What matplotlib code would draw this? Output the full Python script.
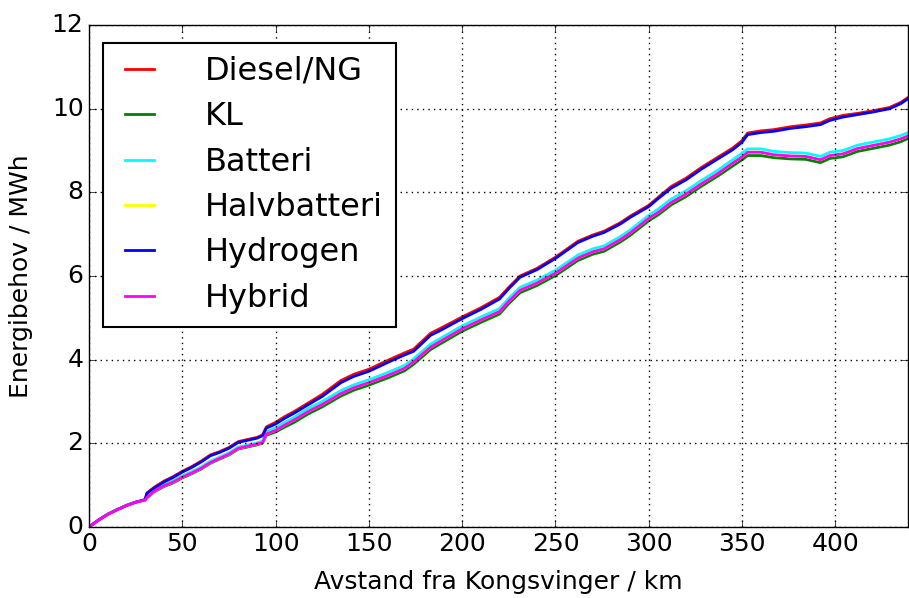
import matplotlib
matplotlib.use('Agg')
import matplotlib.pyplot as plt

# avstand langs strekningen (km)
avstand = [0, 5, 10, 15, 20, 25, 30, 31, 35, 40, 45, 50, 55, 60, 65, 70, 75, 80, 85, 90,
           93, 95, 100, 105, 110, 117, 125, 135, 142, 150, 160, 169, 174, 183, 188, 200,
           210, 220, 225, 231, 240, 250, 262, 270, 276, 285, 290, 300, 305, 312, 320, 328,
           337, 345, 350, 353, 360, 367, 376, 384, 392, 397, 404, 412, 420, 429, 435, 439]

diesel = [0, 0.16, 0.30, 0.41, 0.51, 0.59, 0.65, 0.81, 0.95, 1.09, 1.20, 1.33, 1.44, 1.57,
          1.72, 1.80, 1.90, 2.04, 2.09, 2.14, 2.20, 2.39, 2.50, 2.64, 2.76, 2.95, 3.17, 3.50,
          3.65, 3.77, 3.98, 4.16, 4.25, 4.63, 4.74, 5.02, 5.24, 5.49, 5.73, 6.00, 6.18, 6.45,
          6.83, 6.98, 7.07, 7.28, 7.43, 7.69, 7.88, 8.14, 8.34, 8.59, 8.84, 9.06, 9.24, 9.42,
          9.47, 9.50, 9.57, 9.61, 9.66, 9.76, 9.84, 9.89, 9.95, 10.03, 10.15, 10.27]
kl = [0, 0.16, 0.30, 0.41, 0.51, 0.59, 0.64, 0.69, 0.84, 0.96, 1.05, 1.17, 1.27, 1.38,
      1.52, 1.62, 1.72, 1.86, 1.91, 1.96, 2.00, 2.19, 2.27, 2.39, 2.50, 2.69, 2.87, 3.13,
      3.27, 3.39, 3.56, 3.73, 3.89, 4.24, 4.37, 4.68, 4.89, 5.09, 5.34, 5.60, 5.77, 6.01,
      6.37, 6.52, 6.59, 6.82, 6.97, 7.32, 7.46, 7.70, 7.90, 8.14, 8.39, 8.63, 8.78, 8.88,
      8.88, 8.83, 8.80, 8.79, 8.71, 8.81, 8.85, 8.98, 9.05, 9.13, 9.21, 9.29]
batteri = [0, 0.16, 0.30, 0.41, 0.51, 0.59, 0.64, 0.72, 0.89, 1.01, 1.10, 1.22, 1.32, 1.43,
           1.57, 1.67, 1.77, 1.91, 1.96, 2.01, 2.05, 2.27, 2.37, 2.50, 2.62, 2.82, 3.00, 3.26,
           3.40, 3.52, 3.69, 3.86, 4.02, 4.37, 4.50, 4.81, 5.02, 5.22, 5.47, 5.73, 5.90, 6.14,
           6.50, 6.65, 6.72, 6.95, 7.10, 7.45, 7.60, 7.84, 8.04, 8.28, 8.53, 8.78, 8.94, 9.04,
           9.04, 8.98, 8.95, 8.94, 8.86, 8.96, 9.00, 9.13, 9.20, 9.28, 9.36, 9.43]
halvbatteri = [0, 0.16, 0.30, 0.41, 0.51, 0.59, 0.64, 0.70, 0.86, 0.98, 1.07, 1.19, 1.29, 1.40,
               1.54, 1.64, 1.74, 1.88, 1.93, 1.98, 2.02, 2.22, 2.31, 2.44, 2.56, 2.75, 2.93, 3.19,
               3.33, 3.45, 3.62, 3.79, 3.95, 4.30, 4.43, 4.74, 4.95, 5.15, 5.40, 5.66, 5.83, 6.07,
               6.43, 6.58, 6.65, 6.88, 7.03, 7.38, 7.52, 7.76, 7.96, 8.20, 8.45, 8.70, 8.85, 8.96,
               8.96, 8.90, 8.87, 8.86, 8.78, 8.88, 8.92, 9.05, 9.12, 9.20, 9.28, 9.35]
hydrogen = [0, 0.16, 0.30, 0.41, 0.51, 0.59, 0.65, 0.80, 0.93, 1.07, 1.18, 1.31, 1.42, 1.55,
            1.70, 1.78, 1.88, 2.02, 2.07, 2.12, 2.18, 2.36, 2.46, 2.60, 2.72, 2.91, 3.12, 3.45,
            3.60, 3.72, 3.93, 4.11, 4.20, 4.58, 4.69, 4.98, 5.20, 5.45, 5.70, 5.97, 6.15, 6.42,
            6.80, 6.95, 7.04, 7.25, 7.40, 7.66, 7.85, 8.10, 8.30, 8.55, 8.80, 9.02, 9.20, 9.38,
            9.43, 9.46, 9.53, 9.57, 9.62, 9.72, 9.80, 9.86, 9.92, 10.00, 10.12, 10.24]
hybrid = [0, 0.16, 0.30, 0.41, 0.51, 0.59, 0.64, 0.70, 0.86, 0.98, 1.07, 1.19, 1.29, 1.40,
          1.54, 1.64, 1.74, 1.88, 1.93, 1.98, 2.02, 2.22, 2.31, 2.44, 2.56, 2.75, 2.93, 3.19,
          3.33, 3.45, 3.62, 3.79, 3.95, 4.30, 4.43, 4.74, 4.95, 5.15, 5.40, 5.66, 5.83, 6.07,
          6.43, 6.58, 6.65, 6.88, 7.03, 7.38, 7.52, 7.76, 7.96, 8.20, 8.45, 8.70, 8.85, 8.96,
          8.96, 8.90, 8.87, 8.86, 8.78, 8.88, 8.92, 9.05, 9.12, 9.20, 9.28, 9.35]

serier = [('Diesel/NG', diesel, '#ff0000'), ('KL', kl, '#008000'),
          ('Batteri', batteri, '#00ffff'), ('Halvbatteri', halvbatteri, '#ffff00'),
          ('Hydrogen', hydrogen, '#0000ff'), ('Hybrid', hybrid, '#ff00ff')]

plt.style.use('classic')
fig = plt.figure(figsize=(9.09, 5.98), dpi=100, facecolor='white')
ax = fig.add_axes([0.098, 0.119, 0.901, 0.839])

for navn, verdier, farge in serier:
    ax.plot(avstand, verdier, color=farge, lw=2, label=navn)

ax.set_xlim(0, 439)
ax.set_ylim(0, 12)
ax.grid(True, color='k', linestyle=':', linewidth=1)
ax.tick_params(labelsize=18, direction='in', length=5)
ax.set_xlabel('Avstand fra Kongsvinger / km', fontsize=18, labelpad=10)
ax.set_ylabel('Energibehov / MWh', fontsize=18)
ax.yaxis.set_label_coords(-0.068, 0.5)

leg = ax.legend(loc='upper left', bbox_to_anchor=(0.017, 0.964), borderaxespad=0,
                fontsize=23, handlelength=1.5, handletextpad=1.3, labelspacing=0.45,
                fancybox=False)
leg.get_frame().set_edgecolor('k')
leg.get_frame().set_linewidth(1.5)

fig.savefig('out.png', dpi=100, facecolor='white')
